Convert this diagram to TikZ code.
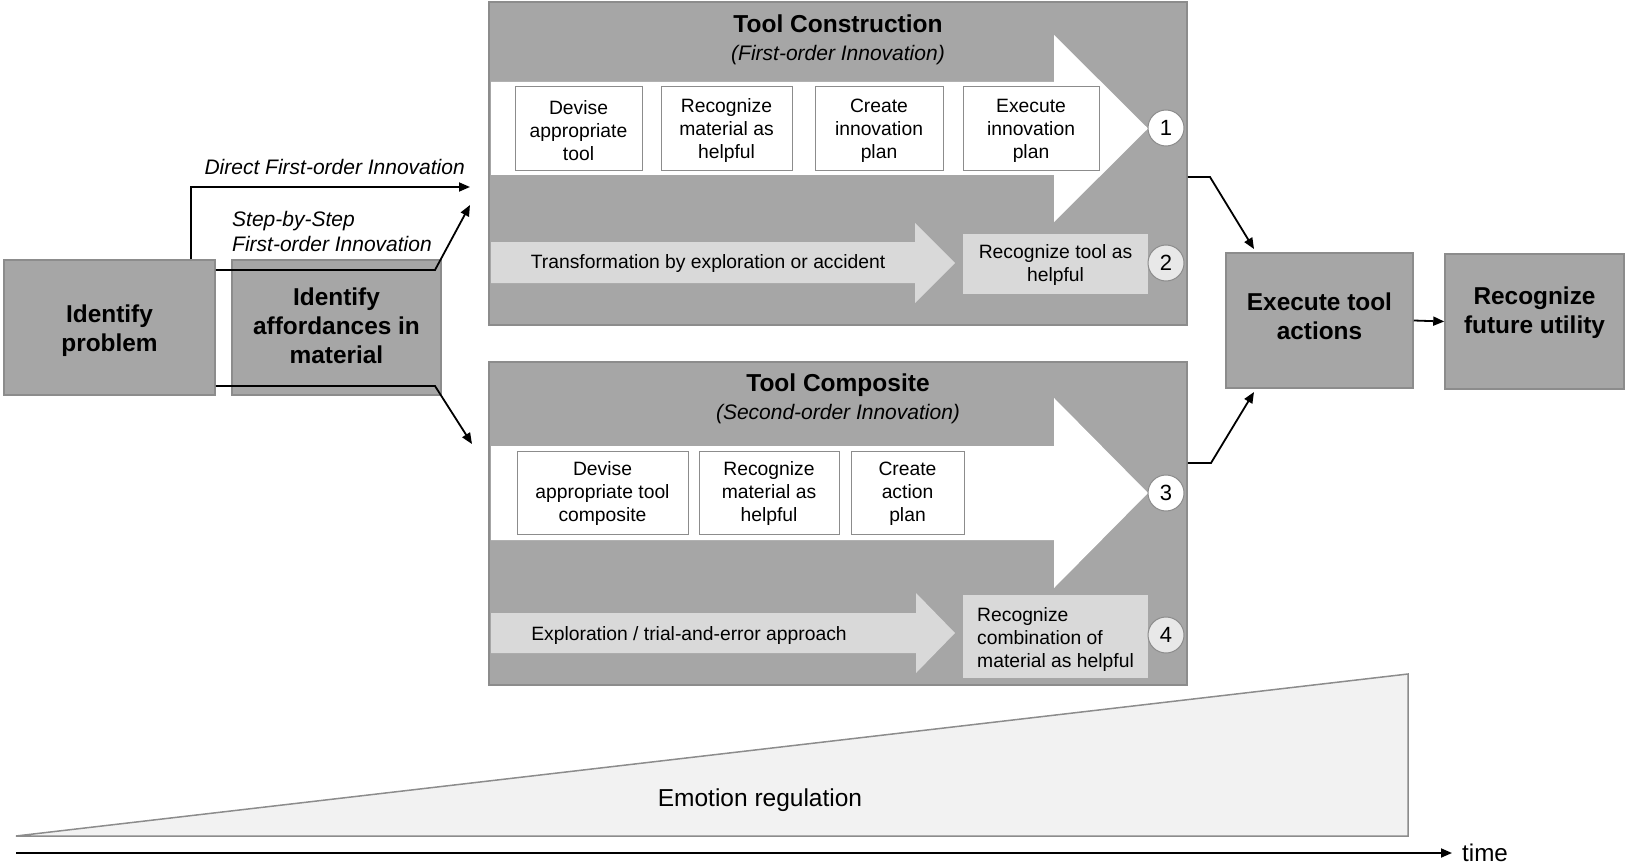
\documentclass[tikz,border=0pt]{standalone}
\usepackage{fontspec}
\setmainfont{Liberation Sans}
\usetikzlibrary{arrows.meta,calc}
\definecolor{boxgray}{HTML}{A6A6A6}
\definecolor{bordergray}{HTML}{8C8C8C}
\definecolor{lightgray2}{HTML}{D9D9D9}
\definecolor{circlegray}{HTML}{E8E8E8}
\definecolor{trifill}{HTML}{F2F2F2}
\tikzset{
  bigbox/.style={draw=bordergray, fill=boxgray, line width=1.5pt, minimum width=#1, minimum height=135pt, inner sep=0pt},
  panel/.style={draw=bordergray, fill=boxgray, line width=1.5pt, minimum width=698pt, minimum height=323pt, inner sep=0pt},
  boldtxt/.style={font=\fontsize{24.4}{29}\selectfont\bfseries, align=center, inner sep=0pt},
  stepbox/.style={draw=bordergray, fill=white, line width=1pt, minimum height=84pt, inner sep=0pt, align=center, font=\fontsize{19.3}{23}\selectfont},
  steptext/.style={inner sep=0pt, align=center, font=\fontsize{19.3}{23}\selectfont},
  smalltxt/.style={font=\fontsize{19.3}{23}\selectfont, inner sep=0pt},
  itxt/.style={font=\fontsize{21}{25}\selectfont\itshape, inner sep=0pt},
  numcirc/.style={circle, draw=bordergray, line width=1pt, minimum size=36pt, inner sep=0pt, font=\fontsize{22}{24}\selectfont},
  conn/.style={draw=black, line width=1.8pt, -{Triangle[length=11pt,width=9pt]}},
  whitearrow/.style={fill=white, draw=none},
  grayarrow/.style={fill=lightgray2, draw=none},
}
\begin{document}
\begin{tikzpicture}[x=1pt,y=-1pt]
\useasboundingbox (0,0) rectangle (1626,864);

% Left boxes
\node[bigbox=211pt] (prob) at (109.5,327.5) {};
\node[boldtxt] (probt) at (109.5,331) {Identify\\problem};
\node[bigbox=209pt] (aff) at (336.5,327.5) {};
\node[boldtxt] (afft) at (336.5,326) {Identify\\affordances in\\material};

% Panels
\node[panel] (tc) at (838,163.5) {};
\node[panel] (tcomp) at (838,523.5) {};

% Tool construction content
\fill[whitearrow] (491,82) -- (1054,82) -- (1054,35) -- (1148,128.5) -- (1054,222) -- (1054,175) -- (491,175) -- cycle;
\fill[grayarrow] (491,242) -- (915,242) -- (915,223) -- (955,263) -- (915,303) -- (915,283) -- (491,283) -- cycle;
\node[font=\fontsize{24.5}{28}\selectfont\bfseries] (tctitle) at (838,24) {Tool Construction};
\node[font=\fontsize{21}{24}\selectfont\itshape] (tcsub) at (838,55) {(First-order Innovation)};
\node[stepbox, minimum width=127pt] (a1) at (578.5,129) {};
\node[steptext] (a1t) at (578.5,130.5) {Devise\\appropriate\\tool};
\node[stepbox, minimum width=131pt] (a2) at (726.5,129) {};
\node[steptext] (a2t) at (726.5,130.5) {Recognize\\material as\\helpful};
\node[stepbox, minimum width=128pt] (a3) at (879,129) {};
\node[steptext] (a3t) at (879,130.5) {Create\\innovation\\plan};
\node[stepbox, minimum width=136pt] (a4) at (1031,129) {};
\node[steptext] (a4t) at (1031,130.5) {Execute\\innovation\\plan};
\node[smalltxt] (trans) at (708,264) {Transformation by exploration or accident};
\node[fill=lightgray2, minimum width=185pt, minimum height=60pt, inner sep=0pt] (rtool) at (1055.5,263.5) {};
\node[steptext] (rtoolt) at (1055.5,265.5) {Recognize tool as\\helpful};
\node[numcirc, fill=white] (n1) at (1166,128) {1};
\node[numcirc, fill=circlegray] (n2) at (1166,263) {2};

% Tool composite content
\fill[whitearrow] (491,446) -- (1054,446) -- (1054,398) -- (1148,493) -- (1054,588) -- (1054,540) -- (491,540) -- cycle;
\fill[grayarrow] (491,613) -- (916,613) -- (916,593) -- (955,633) -- (916,673) -- (916,653) -- (491,653) -- cycle;
\node[font=\fontsize{24.5}{28}\selectfont\bfseries] (cptitle) at (838,385) {Tool Composite};
\node[font=\fontsize{21}{24}\selectfont\itshape] (cpsub) at (838,414.5) {(Second-order Innovation)};
\node[stepbox, minimum width=171pt, minimum height=83pt] (b1) at (602.5,492.5) {};
\node[steptext] (b1t) at (602.5,493.5) {Devise\\appropriate tool\\composite};
\node[stepbox, minimum width=140pt, minimum height=83pt] (b2) at (769,492.5) {};
\node[steptext] (b2t) at (769,493.5) {Recognize\\material as\\helpful};
\node[stepbox, minimum width=113pt, minimum height=83pt] (b3) at (907.5,492.5) {};
\node[steptext] (b3t) at (907.5,493.5) {Create\\action\\plan};
\node[smalltxt] (explo) at (689,636) {Exploration / trial-and-error approach};
\node[fill=lightgray2, minimum width=185pt, minimum height=83pt, inner sep=0pt] (rcomb) at (1055.5,636.5) {};
\node[anchor=west, align=left, inner sep=0pt, font=\fontsize{19.3}{23.3}\selectfont] (rcombt) at (977,639.5) {Recognize\\combination of\\material as helpful};
\node[numcirc, fill=white] (n3) at (1166,493) {3};
\node[numcirc, fill=circlegray] (n4) at (1166,635) {4};

% Right boxes
\node[bigbox=187pt] (exec) at (1319.5,320.5) {};
\node[boldtxt] (exect) at (1319.5,316) {Execute tool\\actions};
\node[bigbox=179pt] (fut) at (1534.5,321.5) {};
\node[boldtxt] (futt) at (1534.5,313) {Recognize\\future utility};

% Connector coordinates
\coordinate (dA) at (191,187);
\coordinate (dEnd) at (470,187);
\coordinate (sA) at (435,270);
\coordinate (sEnd) at (470,205);
\coordinate (lA) at (435,386);
\coordinate (lEnd) at (472,444);
\coordinate (tA) at (1210,177);
\coordinate (tEnd) at (1254,249);
\coordinate (cA) at (1211,463);
\coordinate (cEnd) at (1254,392);

\draw[conn] (prob.north -| dA) -- (dA) -- (dEnd);
\draw[conn] (prob.east |- sA) -- (sA) -- (sEnd);
\draw[conn] (prob.east |- lA) -- (lA) -- (lEnd);
\draw[conn] (tc.east |- tA) -- (tA) -- (tEnd);
\draw[conn] (tcomp.east |- cA) -- (cA) -- (cEnd);
\draw[conn] (exec.east) -- (fut.west);

% Labels
\node[itxt, anchor=east] (ldirect) at (465,167) {Direct First-order Innovation};
\node[itxt, anchor=west, align=left] (lstep) at (232,231) {Step-by-Step\\First-order Innovation};

% Emotion regulation triangle
\draw[draw=bordergray, fill=trifill, line width=1.5pt] (16,836) -- (1408,674) -- (1408,836) -- cycle;
\node[font=\fontsize{24.5}{28}\selectfont] (emo) at (760,800) {Emotion regulation};

% Time axis
\coordinate (t0) at (16,853);
\coordinate (t1) at (1452,853);
\node[anchor=west, inner sep=0pt, font=\fontsize{24.2}{28}\selectfont] (time) at (1462,853) {time};
\draw[conn] (t0) -- (t1);
\end{tikzpicture}
\end{document}
